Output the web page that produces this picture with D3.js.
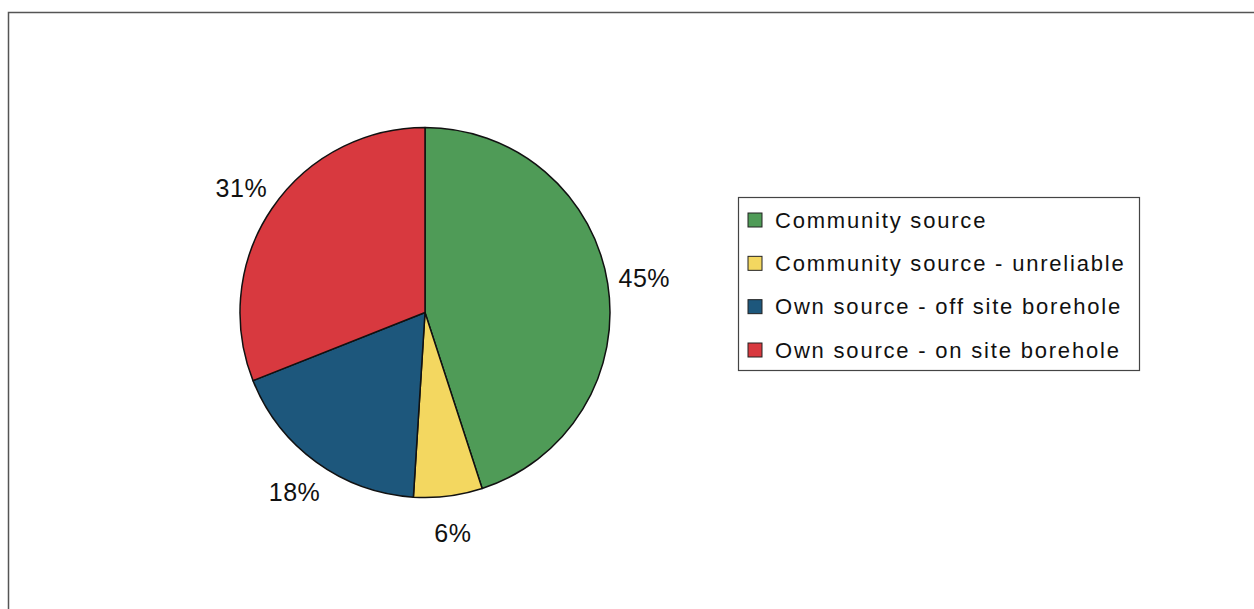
<!DOCTYPE html>
<html>
<head>
<meta charset="utf-8">
<script src="https://cdn.jsdelivr.net/npm/d3@7"></script>
<style>
  body { margin: 0; background: #fff; }
  svg { display: block; }
</style>
</head>
<body>
<script>
// chart data
let categories = ['Community source', 'Community source - unreliable', 'Own source - off site borehole', 'Own source - on site borehole'];
let values = [45, 6, 18, 31];
let colors = ['#4f9b57', '#f3d760', '#1d577c', '#d8393f'];

let width = 1254;
let height = 609;

let svg = d3.select('body')
    .append('svg')
    .attr('width', width)
    .attr('height', height);

// frame (only top and left edges visible)
svg.append('path')
    .attr('d', `M8.5,${height} L8.5,12.5 L${width},12.5`)
    .attr('fill', 'none')
    .attr('stroke', '#555')
    .attr('stroke-width', 1.5);

let cx = 425, cy = 312.5, radius = 185;

let pie = d3.pie().sort(null).value(function(d){ return d; });
let arcs = pie(values);

let arc = d3.arc().innerRadius(0).outerRadius(radius);
let labelArc = d3.arc().innerRadius(222).outerRadius(222);

let g = svg.append('g').attr('transform', `translate(${cx}, ${cy})`);

g.selectAll('path')
    .data(arcs)
    .enter()
    .append('path')
    .attr('d', arc)
    .attr('fill', function(d, i){ return colors[i]; })
    .attr('stroke', '#111')
    .attr('stroke-width', 1.5)
    .attr('stroke-linejoin', 'round');

let total = d3.sum(values);
g.selectAll('text')
    .data(arcs)
    .enter()
    .append('text')
    .attr('transform', function(d){ return `translate(${labelArc.centroid(d)})`; })
    .attr('text-anchor', 'middle')
    .attr('dominant-baseline', 'central')
    .style('font-family', '"Liberation Sans", Arial, sans-serif')
    .style('font-size', '25px')
    .style('letter-spacing', '0.5px')
    .attr('fill', '#111')
    .text(function(d){ return Math.round(d.data / total * 100) + '%'; });

// legend
let legend = svg.append('g').attr('transform', 'translate(738, 197)');

legend.append('rect')
    .attr('x', 0.5)
    .attr('y', 0.5)
    .attr('width', 401)
    .attr('height', 173)
    .attr('fill', '#fff')
    .attr('stroke', '#444')
    .attr('stroke-width', 1.2);

let rowY = d3.scalePoint()
    .domain(categories)
    .range([23, 153]);

let rows = legend.selectAll('.row')
    .data(categories)
    .enter()
    .append('g')
    .attr('class', 'row')
    .attr('transform', function(d){ return `translate(0, ${rowY(d)})`; });

rows.append('rect')
    .attr('x', 10)
    .attr('y', -7)
    .attr('width', 14)
    .attr('height', 14)
    .attr('fill', function(d, i){ return colors[i]; })
    .attr('stroke', '#222')
    .attr('stroke-width', 1);

rows.append('text')
    .attr('x', 37)
    .attr('y', 0)
    .attr('dominant-baseline', 'central')
    .style('font-family', '"Liberation Sans", Arial, sans-serif')
    .style('font-size', '22px')
    .style('letter-spacing', '1.8px')
    .attr('fill', '#111')
    .text(function(d){ return d; });
</script>
</body>
</html>
